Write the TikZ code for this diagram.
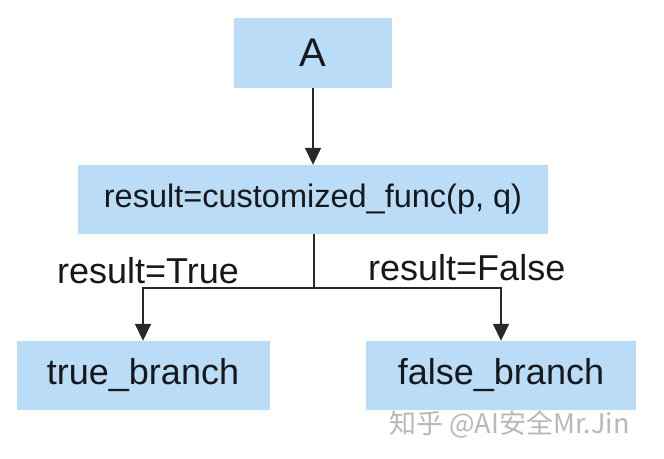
\documentclass[tikz,border=0pt]{standalone}
\usepackage{fontspec}
\setmainfont{Liberation Sans}
\newfontfamily\cjk{Noto Sans CJK SC}
\usetikzlibrary{arrows.meta}
\definecolor{boxblue}{RGB}{186,220,247}
\definecolor{ink}{RGB}{22,24,28}
\definecolor{linegray}{RGB}{40,40,40}
\tikzset{
  box/.style={fill=boxblue, draw=none, inner sep=0pt, text=ink, font=\fontsize{36}{40}\selectfont},
  midbox/.style={box, font=\fontsize{32.5}{38}\selectfont},
  lbl/.style={inner sep=0pt, text=ink, font=\fontsize{36}{40}\selectfont},
  conn/.style={draw=linegray, line width=1.6pt},
  arr/.style={conn, -{Triangle[length=17pt, width=16pt]}},
  wmark/.style={inner sep=0pt, text=black!28, font=\cjk\fontsize{27}{30}\selectfont}
}
\begin{document}
\begin{tikzpicture}[x=1pt, y=-1pt]
\useasboundingbox (0,0) rectangle (664,458);
\node[box, minimum width=158pt, minimum height=70pt, font=\fontsize{40}{44}\selectfont] (A) at (313,53) {A};
\node[midbox, minimum width=470pt, minimum height=69pt] (mid) at (313,199.5) {result=customized\_func(p, q)};
\node[box, minimum width=253pt, minimum height=69pt] (tb) at (143,375.5) {true\_branch};
\node[box, minimum width=270pt, minimum height=69pt] (fb) at (501,375.5) {false\_branch};
\coordinate (j) at (314,288);
\draw[arr] (A.south) -- (mid.north);
\draw[conn] (mid.south -| j) -- (j);
\draw[arr] (j) -| (tb.north);
\draw[arr] (j) -| (fb.north);
\node[lbl, anchor=base west] (lt) at (57,283) {result=True};
\node[lbl, anchor=base west] (lf) at (368,280) {result=False};
\node[wmark, anchor=west] (wm) at (389,424) {知乎 @AI安全Mr.Jin};
\end{tikzpicture}
\end{document}
